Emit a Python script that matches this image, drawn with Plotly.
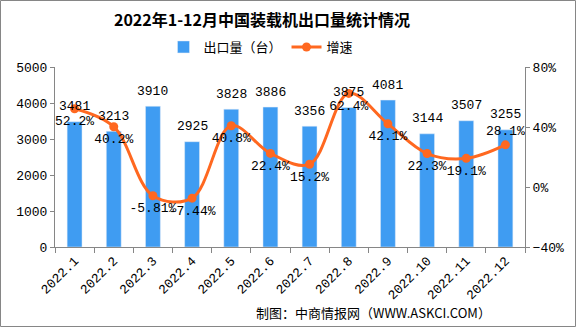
import plotly.graph_objects as go

months = ["2022.1", "2022.2", "2022.3", "2022.4", "2022.5", "2022.6",
          "2022.7", "2022.8", "2022.9", "2022.10", "2022.11", "2022.12"]
exports = [3481, 3213, 3910, 2925, 3828, 3886, 3356, 3875, 4081, 3144, 3507, 3255]
growth = [52.2, 40.2, -5.81, -7.44, 40.8, 22.4, 15.2, 62.4, 42.1, 22.3, 19.1, 28.1]
growth_labels = ["52.2%", "40.2%", "-5.81%", "-7.44%", "40.8%", "22.4%",
                 "15.2%", "62.4%", "42.1%", "22.3%", "19.1%", "28.1%"]
growth_pos = ["bottom center"] * 11 + ["top center"]

xi = list(range(len(months)))

BLUE = "#3F9CF2"
ORANGE = "#FF6820"
NUMFONT = "Liberation Mono, DejaVu Sans Mono, monospace"

fig = go.Figure()
fig.add_trace(go.Bar(
    x=xi, y=exports, name="出口量（台）", marker_color=BLUE,
    width=0.38, cliponaxis=False,
))
fig.add_trace(go.Scatter(
    x=xi, y=growth, name="增速", yaxis="y2", mode="lines+markers+text",
    line=dict(color=ORANGE, width=3, shape="spline", smoothing=1),
    marker=dict(color=ORANGE, size=9),
    text=growth_labels, textposition=growth_pos,
    textfont=dict(family=NUMFONT, size=13, color="#000000"),
    cliponaxis=False,
))

annotations = []
for i, v in zip(xi, exports):
    annotations.append(dict(
        x=i, y=v, xref="x", yref="y", text=str(v), showarrow=False,
        yshift=15, font=dict(family=NUMFONT, size=13, color="#000000"),
    ))

annotations.append(dict(
    x=(493 - 55) / 470, y=(247 - 312) / 180, xref="paper", yref="paper",
    xanchor="right", yanchor="middle", showarrow=False,
    text="制图：中商情报网（WWW.ASKCI.COM）",
    font=dict(family="Noto Sans CJK SC", size=13, color="#000000"),
))

fig.update_layout(
    width=576, height=327,
    margin=dict(l=55, r=51, t=67, b=80),
    paper_bgcolor="#FFFFFF", plot_bgcolor="#FFFFFF",
    title=dict(
        text="<b>2022年1-12月中国装载机出口量统计情况</b>",
        x=262 / 576, xanchor="center", y=1 - 20 / 327, yanchor="middle",
        font=dict(family="Noto Sans CJK SC", size=16, color="#000000"),
    ),
    legend=dict(
        orientation="h", x=(261 - 55) / 470, xanchor="center", y=(247 - 47) / 180,
        yanchor="middle", font=dict(family="Noto Sans CJK SC", size=13, color="#000000"),
        bgcolor="rgba(0,0,0,0)",
    ),
    showlegend=True,
    xaxis=dict(
        range=[-0.5, len(months) - 0.5],
        tickmode="array", tickvals=xi, ticktext=months,
        tickangle=-45, showgrid=False, zeroline=False,
        showline=True, linecolor="#868686", linewidth=1,
        ticks="", ticklen=0,
        minor=dict(tickmode="array", tickvals=[i - 0.5 for i in range(len(months) + 1)],
                   ticks="outside", ticklen=5, tickcolor="#868686", showgrid=False),
        tickfont=dict(family=NUMFONT, size=13, color="#000000"),
    ),
    yaxis=dict(
        range=[0, 5000], dtick=1000, showgrid=False, zeroline=False,
        showline=True, linecolor="#868686", linewidth=1,
        ticks="outside", ticklen=4, tickcolor="#868686",
        tickfont=dict(family=NUMFONT, size=13, color="#000000"),
    ),
    yaxis2=dict(
        range=[-40, 80], dtick=40, overlaying="y", side="right",
        showgrid=False, zeroline=False, ticksuffix="%",
        showline=True, linecolor="#868686", linewidth=1,
        ticks="outside", ticklen=4, tickcolor="#868686",
        tickfont=dict(family=NUMFONT, size=13, color="#000000"),
    ),
    annotations=annotations,
    shapes=[dict(
        type="rect", xref="paper", yref="paper",
        x0=(0.5 - 55) / 470, x1=(575.5 - 55) / 470,
        y0=(247 - 326.5) / 180, y1=(247 - 0.5) / 180,
        line=dict(color="#868686", width=1), fillcolor="rgba(0,0,0,0)",
    )],
)

fig.write_html("out.html")
